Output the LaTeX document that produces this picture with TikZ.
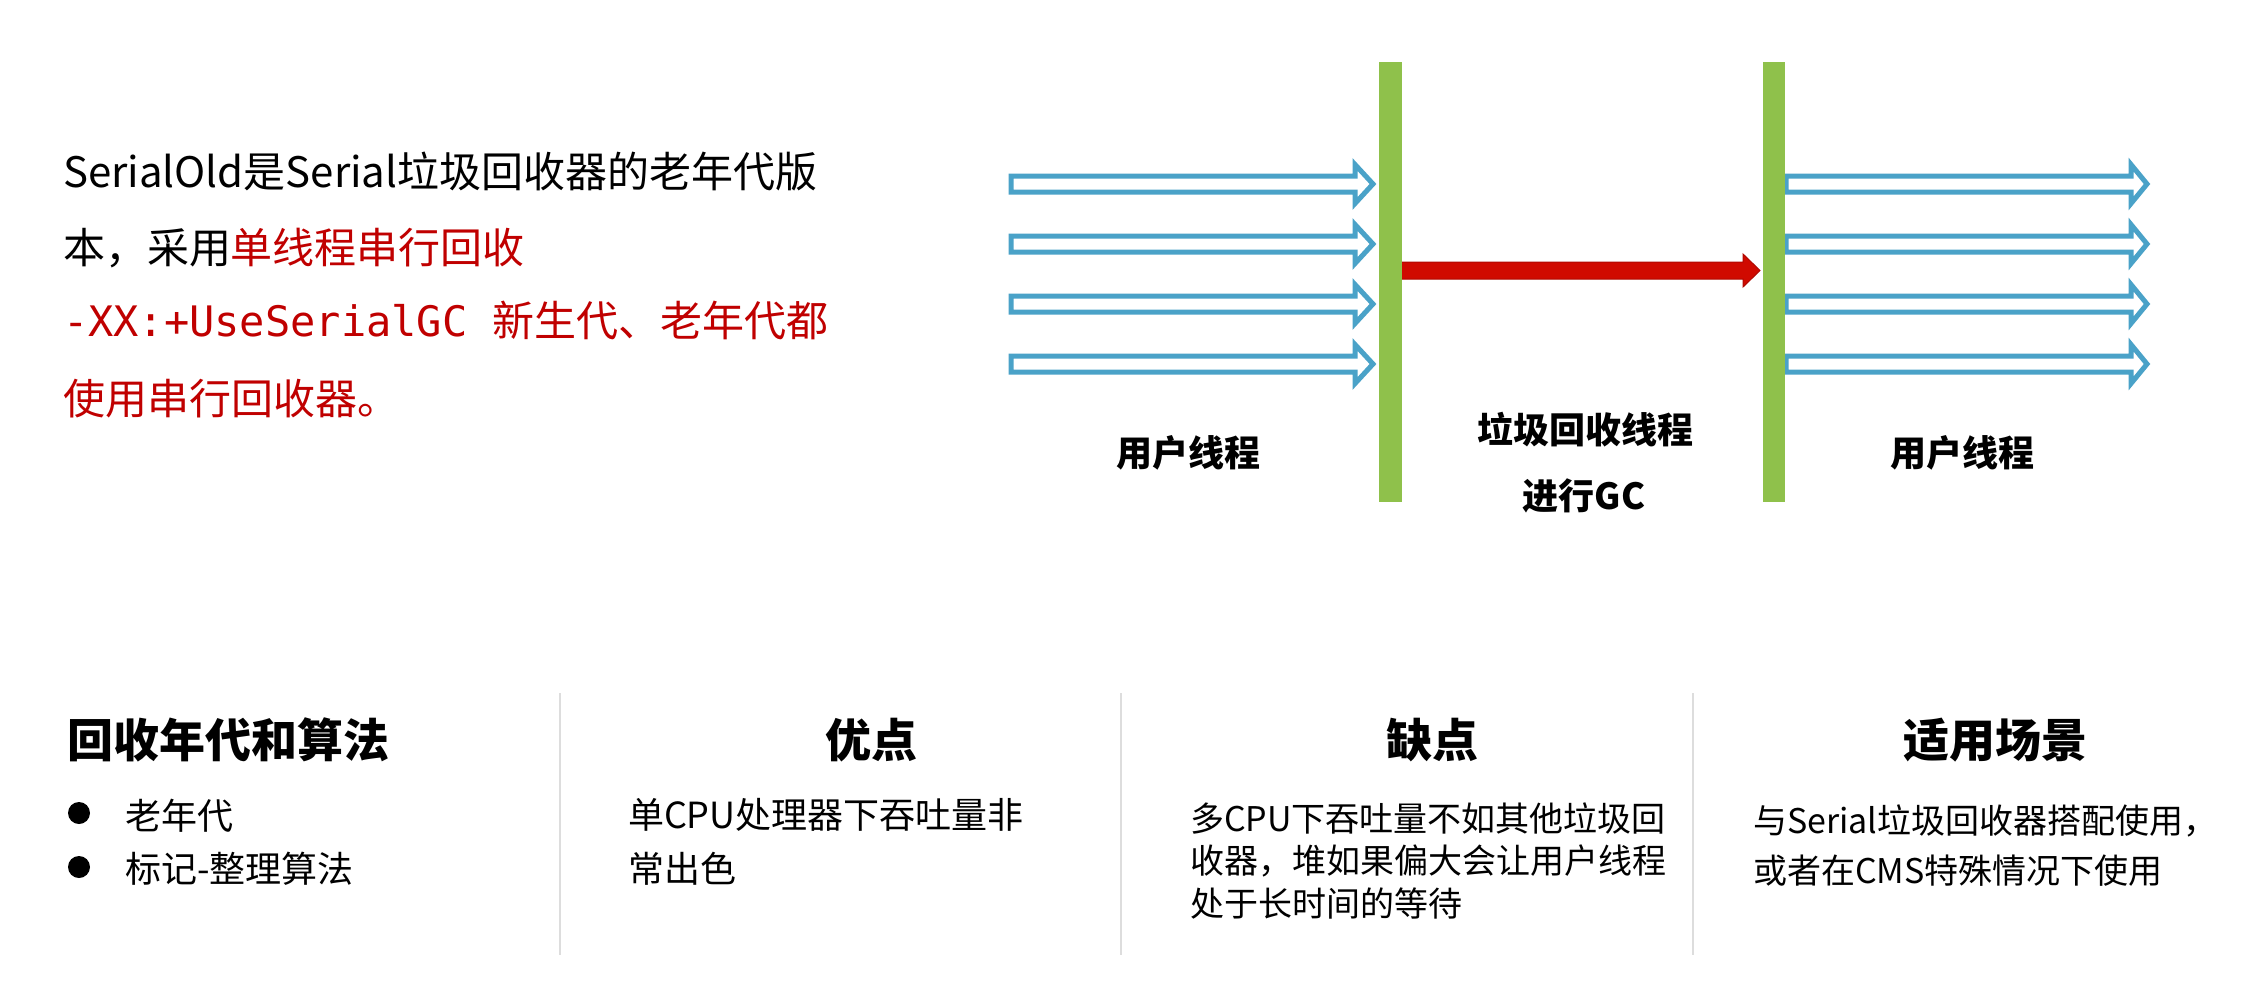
\documentclass[tikz,border=0pt]{standalone}
\usepackage{fontspec}
\setmainfont{Noto Sans CJK SC}
\newfontfamily\cjk{Noto Sans CJK SC}
\newfontfamily\codefont{DejaVu Sans Mono}
\definecolor{txtred}{HTML}{C00000}
\definecolor{gcred}{HTML}{D00A00}
\definecolor{gcredline}{HTML}{B00800}
\definecolor{barg}{HTML}{8FC14B}
\definecolor{thblue}{HTML}{4AA2C8}
\definecolor{sepgray}{HTML}{DDDDDD}
\begin{document}
\begin{tikzpicture}[x=1pt,y=-1pt,
  txt/.style={inner sep=0pt, outer sep=0pt, anchor=base west},
  para/.style={txt, font=\fontsize{42}{50}\selectfont},
  lbl/.style={inner sep=0pt, outer sep=0pt, font=\fontsize{36}{40}\selectfont\bfseries},
  head/.style={inner sep=0pt, outer sep=0pt, anchor=base, font=\fontsize{46}{50}\selectfont\bfseries},
  headl/.style={head, anchor=base west},
  body/.style={txt, font=\fontsize{36}{40}\selectfont},
  bodys/.style={txt, font=\fontsize{34}{40}\selectfont},
  holarrow/.style={draw=thblue, line width=5pt, line join=miter, fill=white},
  barstyle/.style={fill=barg},
  sepline/.style={draw=sepgray, line width=2pt}]
\useasboundingbox[fill=white] (0,0) rectangle (2265,1004);

% --- left paragraph ---
\node[para] (p1) at (63,187) {SerialOld是Serial垃圾回收器的老年代版};
\node[para] (p2) at (63,263) {本，采用\textcolor{txtred}{单线程串行回收}};
\node[para, text=txtred] (p3) at (63,336) {{\codefont -XX:+UseSerialGC }新生代、老年代都};
\node[para, text=txtred] (p4) at (63,414) {使用串行回收器。};

% --- user thread arrows (left) ---
\foreach \y in {184,244,304,364}{
  \draw[holarrow] (1011,\y-8) -- (1355,\y-8) -- (1355,\y-19.5) -- (1373,\y)
    -- (1355,\y+19.5) -- (1355,\y+8) -- (1011,\y+8) -- cycle;
}
% --- user thread arrows (right) ---
\foreach \y in {184,244,304,364}{
  \draw[holarrow] (1786,\y-8) -- (2131,\y-8) -- (2131,\y-19.5) -- (2147,\y)
    -- (2131,\y+19.5) -- (2131,\y+8) -- (1786,\y+8) -- cycle;
}
% --- GC arrow ---
\filldraw[fill=gcred, draw=gcredline, line width=1pt]
  (1398,262) -- (1743,262) -- (1743,254) -- (1760,270.5) -- (1743,287)
  -- (1743,279) -- (1398,279) -- cycle;
% --- safepoint bars ---
\fill[barstyle] (1379,62) rectangle (1402,502);
\fill[barstyle] (1763,62) rectangle (1785,502);

% --- diagram labels ---
\node[lbl] (u1) at (1188,453) {用户线程};
\node[lbl] (gc1) at (1585,430) {垃圾回收线程};
\node[lbl] (gc2) at (1584,496) {进行GC};
\node[lbl] (u2) at (1962,453) {用户线程};

% --- separators ---
\draw[sepline] (560,693) -- (560,955);
\draw[sepline] (1121,693) -- (1121,955);
\draw[sepline] (1693,693) -- (1693,955);

% --- bottom headings ---
\node[headl] (h1) at (67,757) {回收年代和算法};
\node[head] (h2) at (871,757) {优点};
\node[head] (h3) at (1432,757) {缺点};
\node[head] (h4) at (1995,757) {适用场景};

% --- column 1 ---
\fill (79,813) circle[radius=11pt];
\fill (79,867) circle[radius=11pt];
\node[body] (c1a) at (125,829) {老年代};
\node[body] (c1b) at (125,882) {标记-整理算法};

% --- column 2 ---
\node[body] (c2a) at (628,828) {单CPU处理器下吞吐量非};
\node[body] (c2b) at (628,882) {常出色};

% --- column 3 ---
\node[bodys] (c3a) at (1190,831) {多CPU下吞吐量不如其他垃圾回};
\node[bodys] (c3b) at (1190,873) {收器，堆如果偏大会让用户线程};
\node[bodys] (c3c) at (1190,916) {处于长时间的等待};

% --- column 4 ---
\node[bodys] (c4a) at (1753,833) {与Serial垃圾回收器搭配使用，};
\node[bodys] (c4b) at (1753,883) {或者在CMS特殊情况下使用};
\end{tikzpicture}
\end{document}
